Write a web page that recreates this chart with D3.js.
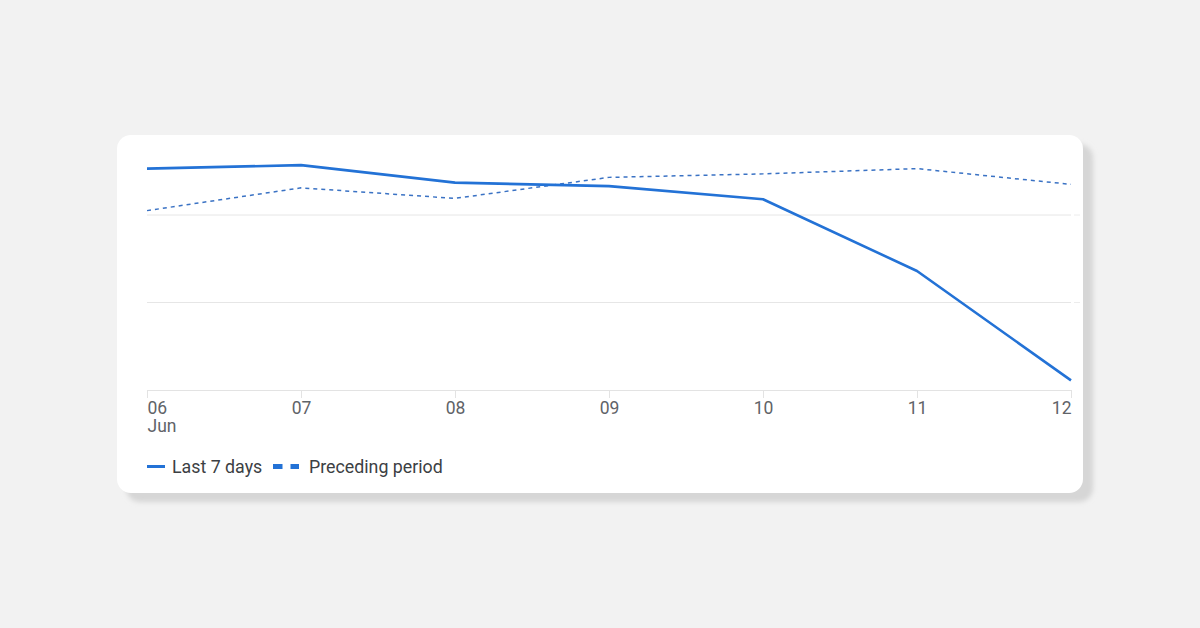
<!DOCTYPE html>
<html><head><meta charset="utf-8">
<script src="https://cdn.jsdelivr.net/npm/d3@7"></script>
<style>
html,body{margin:0;padding:0;background:#f2f2f2;}
svg{display:block;font-family:Roboto, "Noto Sans", sans-serif;}
</style></head>
<body><svg id="c" width="1200" height="628"></svg>
<script>
const days = ["06","07","08","09","10","11","12"];
const lastPeriod = [253, 257, 237, 233, 218, 136, 11];
const precedingPeriod = [205, 231, 219, 243, 247, 253, 235];
const gridValues = [0, 100, 200];
const seriesNames = ["Last 7 days", "Preceding period"];

const svg = d3.select("#c");
const defs = svg.append("defs");
defs.append("filter").attr("id","blur").attr("x","-5%").attr("y","-5%").attr("width","110%").attr("height","110%")
  .append("feGaussianBlur").attr("stdDeviation",2.5);
// shadow
svg.append("rect").attr("x",126).attr("y",144).attr("width",967).attr("height",358).attr("rx",14)
  .attr("fill","#d6d6d6").attr("filter","url(#blur)");
// card
svg.append("rect").attr("x",117).attr("y",135).attr("width",966).attr("height",358).attr("rx",14).attr("fill","#ffffff");

const x = d3.scalePoint().domain(days).range([147,1071]);
const y = d3.scaleLinear().domain([0,200]).range([390,215]);

// gridlines
svg.append("g").selectAll("line").data(gridValues.filter(v=>v>0)).join("line")
  .attr("x1",147).attr("x2",1071).attr("y1",d=>y(d)).attr("y2",d=>y(d))
  .attr("stroke","#e6e6e6").attr("stroke-width",1);
svg.append("g").selectAll("line").data(gridValues.filter(v=>v>0)).join("line")
  .attr("x1",1074).attr("x2",1080).attr("y1",d=>y(d)).attr("y2",d=>y(d))
  .attr("stroke","#ececec").attr("stroke-width",1);

// x axis
const ax = svg.append("g").attr("transform",`translate(0,${y(0)})`)
  .call(d3.axisBottom(x).tickSize(8).tickPadding(6).tickSizeOuter(0));
ax.select(".domain").attr("stroke","#e3e3e3");
ax.selectAll(".tick line").attr("stroke","#e3e3e3");
ax.selectAll(".tick text").attr("fill","#5f6368").attr("font-size",17.5)
  .attr("font-family","Roboto").attr("dy",0).attr("y",24)
  .attr("text-anchor",(d,i)=> i===0?"start":(i===days.length-1?"end":"middle"));
ax.select(".tick text").append("tspan").attr("x",0).attr("dy",18).text("Jun");

const line = d3.line().x((d,i)=>x(days[i])).y(d=>y(d));
svg.append("path").datum(precedingPeriod).attr("d",line).attr("fill","none")
  .attr("stroke","#3a72c4").attr("stroke-width",1.5).attr("stroke-dasharray","4,4");
svg.append("path").datum(lastPeriod).attr("d",line).attr("fill","none")
  .attr("stroke","#2372d6").attr("stroke-width",2.6).attr("stroke-linejoin","round");

// legend
const lg = svg.append("g").attr("font-size",17.8).attr("fill","#3c4043");
lg.append("line").attr("x1",147).attr("x2",165).attr("y1",466.5).attr("y2",466.5)
  .attr("stroke","#2372d6").attr("stroke-width",3);
lg.append("text").attr("x",172).attr("y",473).text(seriesNames[0]);
lg.append("line").attr("x1",273).attr("x2",299).attr("y1",466.5).attr("y2",466.5)
  .attr("stroke","#2372d6").attr("stroke-width",5).attr("stroke-dasharray","9.5,8");
lg.append("text").attr("x",309).attr("y",473).text(seriesNames[1]);
</script></body></html>
